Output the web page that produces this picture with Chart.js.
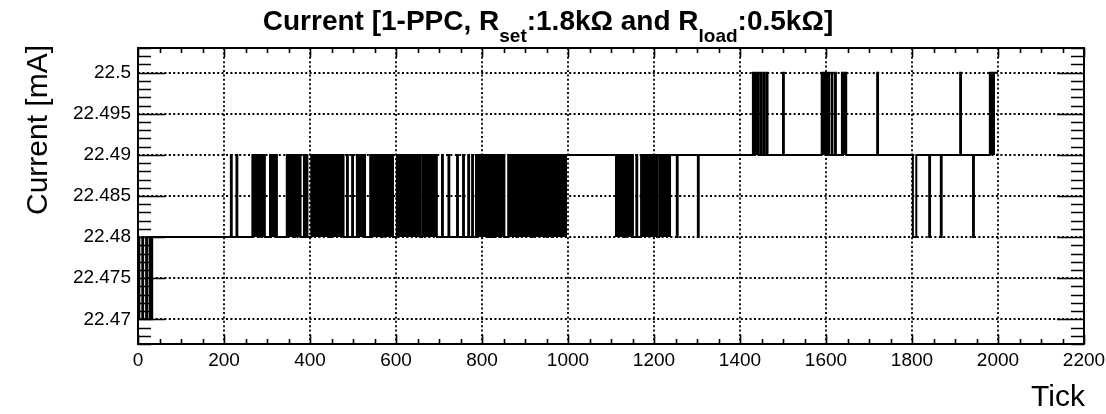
<!DOCTYPE html>
<html>
<head>
<meta charset="utf-8">
<script src="https://cdn.jsdelivr.net/npm/chart.js@4.4.1/dist/chart.umd.min.js"></script>
<style>
  html, body { margin: 0; padding: 0; background: #fff; }
</style>
</head>
<body>
<canvas id="grafico" width="1106" height="414"></canvas>
<script>
// ejes
const xTickValues = [0, 200, 400, 600, 800, 1000, 1200, 1400, 1600, 1800, 2000, 2200];
const xTickLabels = ['0', '200', '400', '600', '800', '1000', '1200', '1400', '1600', '1800', '2000', '2200'];
const yTickValues = [22.47, 22.475, 22.48, 22.485, 22.49, 22.495, 22.5];
const yTickLabels = ['22.47', '22.475', '22.48', '22.485', '22.49', '22.495', '22.5'];

// nivel base de la corriente: inicio de cada tramo (Tick) y valor (mA)
const baseStart = [0, 33, 998, 1109, 1240, 1993];
const baseLevel = [22.47, 22.48, 22.49, 22.48, 22.49, 22.5];
const lastTick = 2000;

// saltos aislados (desde, hasta, valor)
const pulseFrom  = [1, 10, 19, 27,
                    216, 229, 386, 392, 486, 498, 509, 707, 722, 742, 756, 768, 777,
                    1159,
                    1253, 1302, 1802, 1840, 1867, 1942,
                    1448, 1455, 1462, 1500, 1605, 1613, 1621, 1719, 1912];
const pulseTo    = [3, 12, 21, 29,
                    218, 231, 388, 394, 488, 500, 511, 709, 724, 744, 758, 770, 779,
                    1161,
                    1255, 1304, 1810, 1842, 1869, 1944,
                    1450, 1457, 1464, 1502, 1607, 1615, 1623, 1721, 1914];
const pulseLevel = [22.48, 22.48, 22.48, 22.48,
                    22.49, 22.49, 22.49, 22.49, 22.49, 22.49, 22.49, 22.49, 22.49, 22.49, 22.49, 22.49, 22.49,
                    22.49,
                    22.48, 22.48, 22.48, 22.48, 22.48, 22.48,
                    22.5, 22.5, 22.5, 22.5, 22.5, 22.5, 22.5, 22.5, 22.5];

// rafagas densas (cambios en cada tick)
const burstFrom = [266, 283, 307, 346, 365, 403, 449, 514, 540, 569, 602, 661,
                   786, 816, 828, 844, 861, 883, 918, 953, 965,
                   1109, 1133, 1170, 1212,
                   1430, 1590, 1637, 1981];
const burstTo   = [280, 295, 323, 362, 378, 445, 478, 528, 566, 593, 656, 695,
                   813, 825, 841, 852, 880, 915, 950, 962, 998,
                   1130, 1151, 1207, 1240,
                   1443, 1602, 1647, 1993];
const burstLow  = [22.48, 22.48, 22.48, 22.48, 22.48, 22.48, 22.48, 22.48, 22.48, 22.48, 22.48, 22.48,
                   22.48, 22.48, 22.48, 22.48, 22.48, 22.48, 22.48, 22.48, 22.48,
                   22.48, 22.48, 22.48, 22.48,
                   22.49, 22.49, 22.49, 22.49];
const burstHigh = [22.49, 22.49, 22.49, 22.49, 22.49, 22.49, 22.49, 22.49, 22.49, 22.49, 22.49, 22.49,
                   22.49, 22.49, 22.49, 22.49, 22.49, 22.49, 22.49, 22.49, 22.49,
                   22.49, 22.49, 22.49, 22.49,
                   22.5, 22.5, 22.5, 22.5];

const FUENTE = "'Liberation Sans', Arial, Helvetica, sans-serif";

// valor de la corriente en un tick
function nivelEn(t) {
    for (let i = 0; i < pulseFrom.length; i++) {
        if (t >= pulseFrom[i] && t < pulseTo[i]) return pulseLevel[i];
    }
    for (let i = 0; i < burstFrom.length; i++) {
        if (t >= burstFrom[i] && t < burstTo[i]) return burstHigh[i];
    }
    let v = baseLevel[0];
    for (let i = 0; i < baseStart.length; i++) {
        if (t >= baseStart[i]) v = baseLevel[i];
    }
    return v;
}

const cortes = [...new Set([].concat(baseStart, pulseFrom, pulseTo, burstFrom, burstTo, [lastTick]))]
    .sort((a, b) => a - b);
const serie = cortes.map(t => ({ x: t, y: nivelEn(t) }));

// las rafagas se rellenan entre los dos niveles
const rafagas = burstFrom.map((f, i) => ({
    data: [{ x: f, y: burstHigh[i] }, { x: burstTo[i], y: burstHigh[i] }],
    borderWidth: 0,
    pointRadius: 0,
    backgroundColor: '#000',
    fill: { value: burstLow[i] }
}));

// rejilla punteada, marco y marcas estilo ROOT
const marcoPlugin = {
    id: 'marco',
    beforeDatasetsDraw(chart) {
        const { ctx, chartArea: a, scales: { x, y } } = chart;
        ctx.save();
        ctx.strokeStyle = '#000';
        ctx.lineWidth = 1.8;
        ctx.setLineDash([2, 2.4]);
        xTickValues.forEach(v => {
            if (v <= 0 || v >= 2200) return;
            const px = Math.round(x.getPixelForValue(v));
            ctx.beginPath(); ctx.moveTo(px, a.top); ctx.lineTo(px, a.bottom); ctx.stroke();
        });
        yTickValues.forEach(v => {
            const py = Math.round(y.getPixelForValue(v));
            ctx.beginPath(); ctx.moveTo(a.left, py); ctx.lineTo(a.right, py); ctx.stroke();
        });
        ctx.restore();
    },
    afterDatasetsDraw(chart) {
        const { ctx, chartArea: a, scales: { x, y } } = chart;
        ctx.save();
        ctx.strokeStyle = '#000';
        ctx.lineWidth = 2;
        ctx.setLineDash([]);
        ctx.strokeRect(a.left, a.top, a.right - a.left, a.bottom - a.top);
        ctx.lineWidth = 1.6;
        ctx.beginPath();
        // eje Y (izquierda y derecha)
        for (let k = 0; k <= 36; k++) {
            const v = 22.467 + k * 0.001;
            const py = Math.round(y.getPixelForValue(v)) + 0.5;
            const mayor = Math.abs(Math.round(v * 200) - v * 200) < 1e-6;
            const len = mayor ? 27 : 13;
            ctx.moveTo(a.left, py); ctx.lineTo(a.left + len, py);
            ctx.moveTo(a.right, py); ctx.lineTo(a.right - len, py);
        }
        // eje X (abajo y arriba)
        for (let t = 0; t <= 2200; t += 50) {
            const px = Math.round(x.getPixelForValue(t)) + 0.5;
            const len = (t % 200 === 0) ? 9 : 5;
            ctx.moveTo(px, a.bottom); ctx.lineTo(px, a.bottom - len);
            ctx.moveTo(px, a.top); ctx.lineTo(px, a.top + len);
        }
        ctx.stroke();
        ctx.restore();
    },
    afterDraw(chart) {
        const { ctx } = chart;
        ctx.save();
        ctx.fillStyle = '#000';
        // titulo con subindices
        const piezas = [
            { t: 'Current [1-PPC, R', sub: false },
            { t: 'set', sub: true },
            { t: ':1.8k\u03A9 and R', sub: false },
            { t: 'load', sub: true },
            { t: ':0.5k\u03A9]', sub: false }
        ];
        const fNormal = 'bold 28px ' + FUENTE;
        const fSub = 'bold 19px ' + FUENTE;
        let total = 0;
        piezas.forEach(p => { ctx.font = p.sub ? fSub : fNormal; p.w = ctx.measureText(p.t).width; total += p.w; });
        let cx = 548 - total / 2;
        ctx.textBaseline = 'alphabetic';
        ctx.textAlign = 'left';
        piezas.forEach(p => {
            ctx.font = p.sub ? fSub : fNormal;
            ctx.fillText(p.t, cx, p.sub ? 42 : 30);
            cx += p.w;
        });
        // titulos de ejes
        ctx.font = '30px ' + FUENTE;
        ctx.textAlign = 'right';
        ctx.fillText('Tick', 1085, 406);
        ctx.translate(47, 45);
        ctx.rotate(-Math.PI / 2);
        ctx.fillText('Current [mA]', 0, 0);
        ctx.restore();
    }
};

Chart.defaults.color = '#000';
Chart.defaults.font.family = FUENTE;

new Chart(document.getElementById('grafico'), {
    type: 'line',
    data: {
        datasets: [{
            data: serie,
            stepped: true,
            borderColor: '#000',
            borderWidth: 2,
            pointRadius: 0,
            fill: false
        }].concat(rafagas)
    },
    options: {
        responsive: false,
        animation: false,
        layout: { padding: { left: 0, right: 22, top: 48, bottom: 0 } },
        plugins: { legend: { display: false }, title: { display: false }, tooltip: { enabled: false } },
        scales: {
            x: {
                type: 'linear',
                min: 0,
                max: 2200,
                grid: { display: false, drawTicks: false },
                border: { display: false },
                afterBuildTicks: s => { s.ticks = xTickValues.map(v => ({ value: v })); },
                afterFit: s => { s.height = 70; s.paddingLeft = 0; s.paddingRight = 0; },
                ticks: {
                    padding: 5,
                    maxRotation: 0,
                    autoSkip: false,
                    font: { size: 19 },
                    callback: (v, i) => xTickLabels[i]
                }
            },
            y: {
                type: 'linear',
                min: 22.467,
                max: 22.503,
                grid: { display: false, drawTicks: false },
                border: { display: false },
                afterBuildTicks: s => { s.ticks = yTickValues.map(v => ({ value: v })); },
                afterFit: s => { s.width = 138; s.paddingTop = 0; s.paddingBottom = 0; },
                ticks: {
                    padding: 7,
                    autoSkip: false,
                    font: { size: 19 },
                    callback: (v, i) => yTickLabels[i]
                }
            }
        }
    },
    plugins: [marcoPlugin]
});
</script>
</body>
</html>
